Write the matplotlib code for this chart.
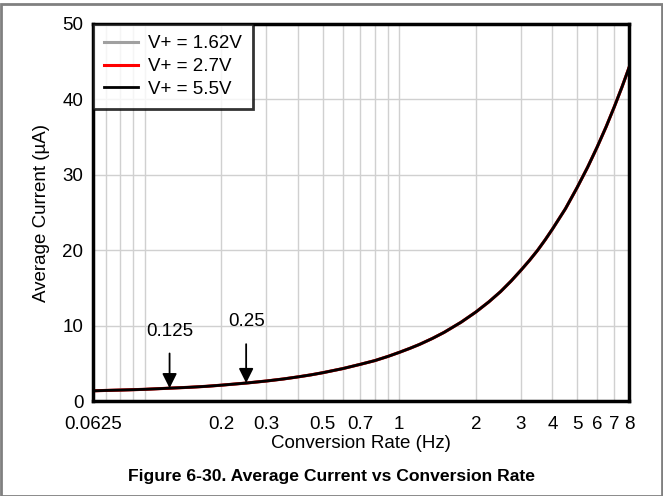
import numpy as np
import matplotlib.pyplot as plt
from matplotlib.patches import Rectangle

plt.rcParams['font.family'] = ['Liberation Sans', 'DejaVu Sans']

freq = [0.0625, 0.07, 0.08, 0.09, 0.1, 0.125, 0.15, 0.175, 0.2, 0.25, 0.3, 0.35, 0.4, 0.45,
        0.5, 0.6, 0.7, 0.8, 0.9, 1, 1.1, 1.2, 1.35, 1.5, 1.75, 2, 2.25, 2.5, 2.75, 3,
        3.25, 3.5, 3.75, 4, 4.5, 5, 5.5, 6, 6.5, 7, 7.5, 8]
i_162 = [1.35, 1.4, 1.45, 1.5, 1.55, 1.7, 1.82, 1.95, 2.1, 2.38, 2.65, 2.92, 3.2, 3.47,
         3.75, 4.3, 4.85, 5.35, 5.9, 6.45, 6.98, 7.5, 8.3, 9.1, 10.45, 11.8, 13.15, 14.5,
         15.9, 17.3, 18.65, 20.0, 21.4, 22.8, 25.5, 28.3, 31.0, 33.7, 36.35, 39.0, 41.6, 44.2]
i_27 = [1.35, 1.4, 1.45, 1.5, 1.55, 1.7, 1.82, 1.95, 2.1, 2.38, 2.65, 2.92, 3.2, 3.47,
        3.75, 4.3, 4.85, 5.35, 5.9, 6.45, 6.98, 7.5, 8.3, 9.1, 10.45, 11.8, 13.15, 14.5,
        15.9, 17.3, 18.65, 20.0, 21.4, 22.8, 25.5, 28.3, 31.0, 33.7, 36.35, 39.0, 41.6, 44.2]
i_55 = [1.35, 1.4, 1.45, 1.5, 1.55, 1.7, 1.82, 1.95, 2.1, 2.38, 2.65, 2.92, 3.2, 3.47,
        3.75, 4.3, 4.85, 5.35, 5.9, 6.45, 6.98, 7.5, 8.3, 9.1, 10.45, 11.8, 13.15, 14.5,
        15.9, 17.3, 18.65, 20.0, 21.4, 22.8, 25.5, 28.3, 31.0, 33.7, 36.35, 39.0, 41.6, 44.2]
tick_vals = [0.0625, 0.2, 0.3, 0.5, 0.7, 1, 2, 3, 4, 5, 6, 7, 8]
tick_labels = ['0.0625', '0.2', '0.3', '0.5', '0.7', '1', '2', '3', '4', '5', '6', '7', '8']
marks = [(0.125, 1.7, '0.125', 25, 41), (0.25, 2.38, '0.25', 28, 44)]

fig = plt.figure(figsize=(6.63, 4.96), dpi=100)
fig.patches.append(Rectangle((0.001, 0.001), 0.998, 0.99, transform=fig.transFigure,
                             fill=False, edgecolor='#808080', linewidth=2))
ax = fig.add_axes([93 / 663, 1 - 401 / 496, 536 / 663, 377 / 496])

ax.plot(freq, i_162, color='#a0a0a0', lw=2.2, label='V+ = 1.62V')
ax.plot(freq, i_27, color='red', lw=2.2, label='V+ = 2.7V')
ax.plot(freq, i_55, color='black', lw=2, label='V+ = 5.5V')

ax.set_xscale('log')
ax.set_xlim(0.0625, 8)
ax.set_ylim(0, 50)
ax.set_xticks(tick_vals)
ax.set_xticklabels(tick_labels)
ax.xaxis.set_minor_locator(plt.LogLocator(subs=np.arange(1, 10)))
ax.xaxis.set_minor_formatter(plt.NullFormatter())
ax.set_yticks(np.arange(0, 51, 10))
ax.grid(True, which='both', axis='x', color='#d0d0d0', lw=1)
ax.grid(True, which='major', axis='y', color='#d0d0d0', lw=1)
ax.tick_params(which='both', length=0, labelsize=13.5)
ax.tick_params(axis='x', pad=11)
ax.tick_params(axis='y', pad=7)
for s in ax.spines.values():
    s.set_linewidth(2.5)

for x, y, t, alen, toff in marks:
    ax.annotate('', xy=(x, y), xytext=(0, alen), textcoords='offset points',
                arrowprops=dict(arrowstyle='-|>', color='black', lw=1.3, mutation_scale=22,
                                shrinkA=0, shrinkB=0))
    ax.annotate(t, xy=(x, y), xytext=(0, toff), textcoords='offset points',
                ha='center', va='center', fontsize=13.5)

ax.set_xlabel('Conversion Rate (Hz)', fontsize=13.5, labelpad=1)
ax.set_ylabel('Average Current (µA)', fontsize=13.5, labelpad=9)

leg = ax.legend(loc='upper left', fontsize=13.5, frameon=True, fancybox=False,
                borderaxespad=0, handlelength=1.8, labelspacing=0.3, borderpad=0.6,
                handletextpad=0.55)
leg.get_frame().set_edgecolor('black')
leg.get_frame().set_linewidth(2)

fig.text(0.5, 1 - 476 / 496, 'Figure 6-30. Average Current vs Conversion Rate',
         ha='center', va='center', fontsize=12.6, fontweight='bold')

fig.savefig('out.png', dpi=100)
